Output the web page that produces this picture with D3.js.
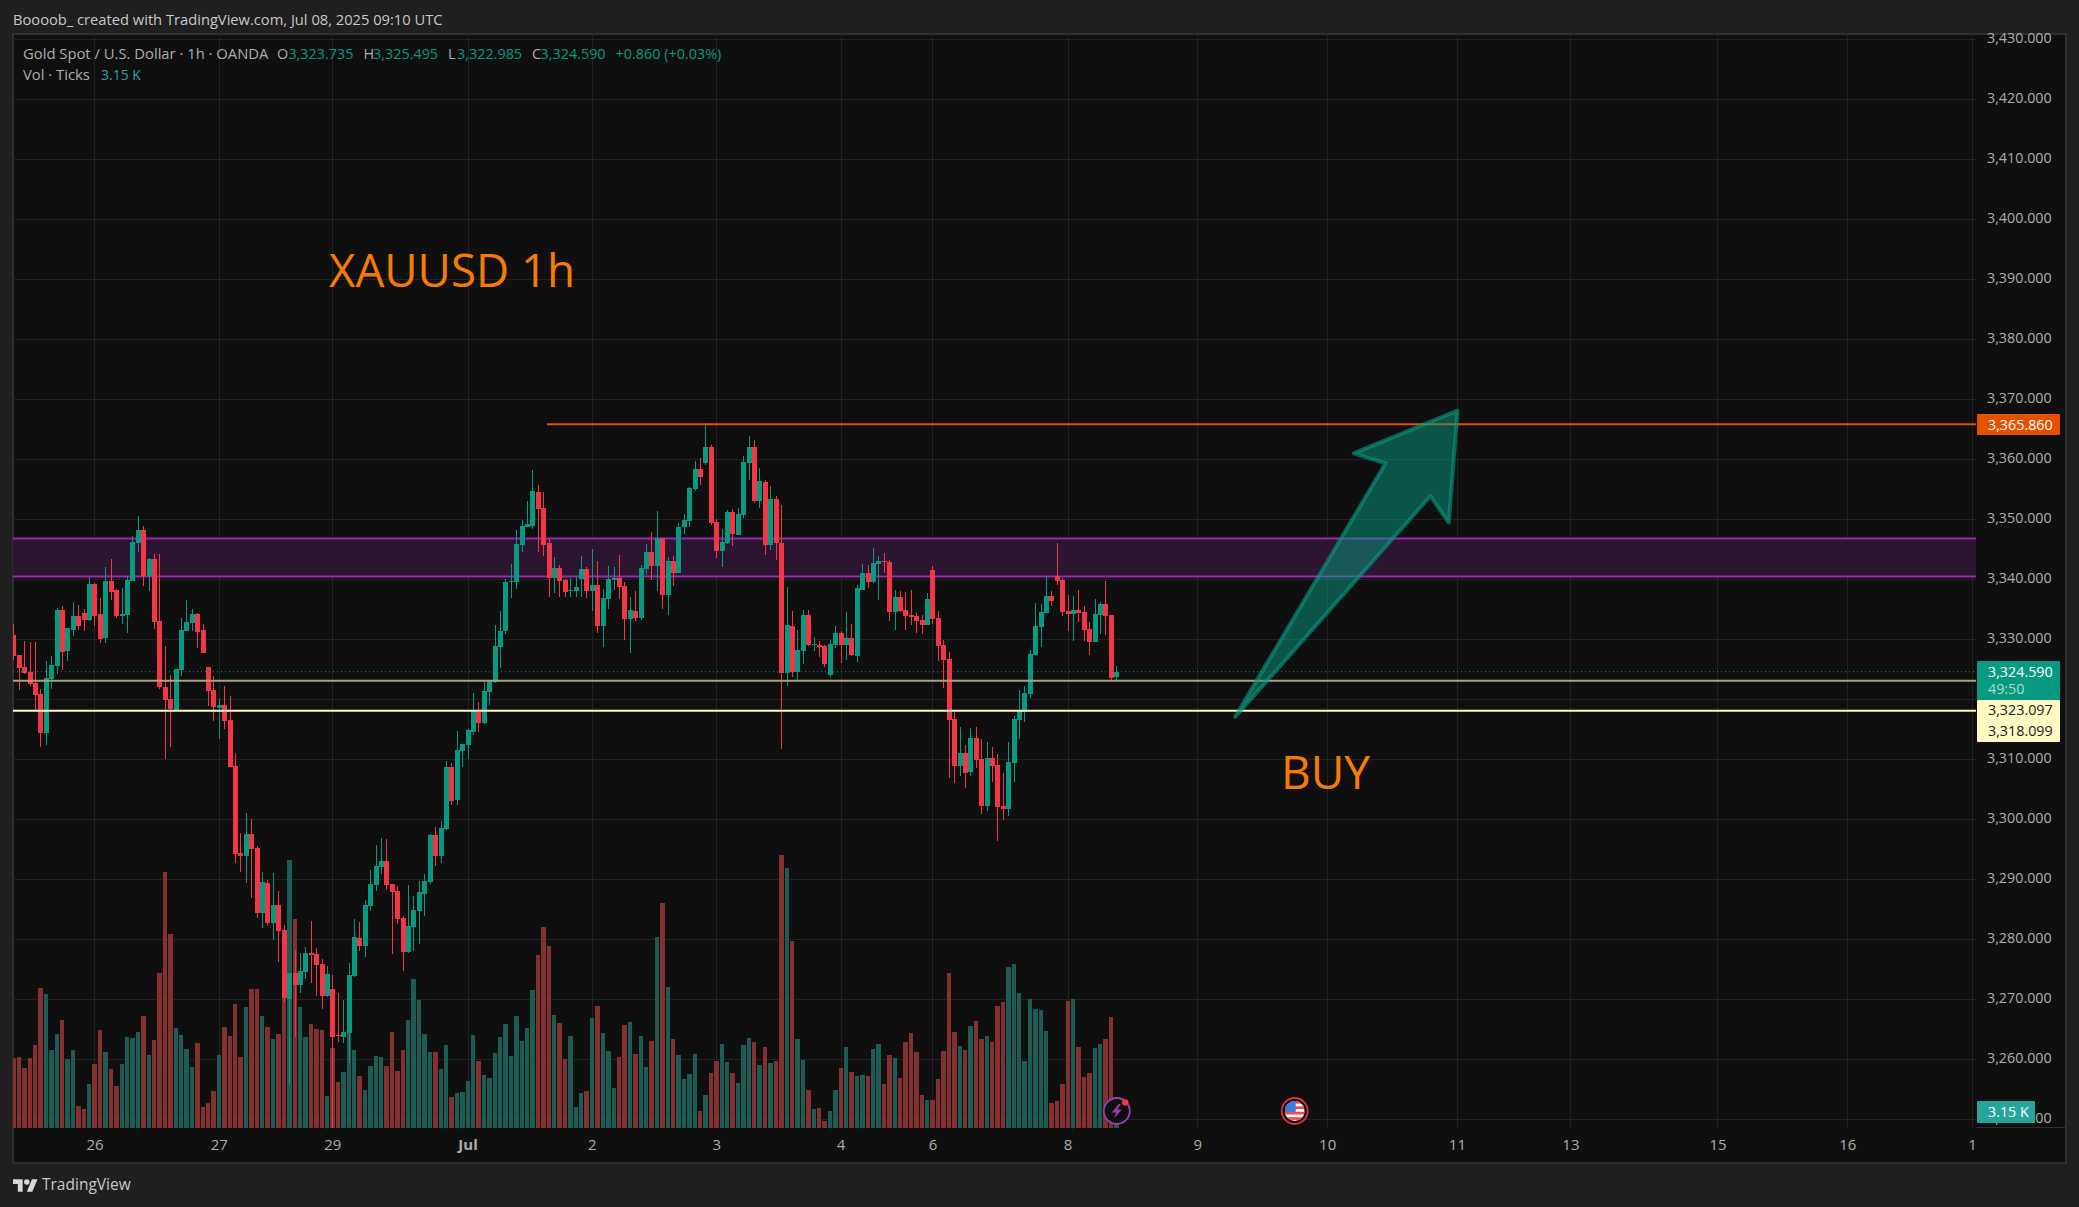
<!DOCTYPE html>
<html>
<head>
<meta charset="utf-8">
<script src="https://cdn.jsdelivr.net/npm/d3@7"></script>
<style>
  html, body { margin: 0; padding: 0; background: #1f1f1f; }
  svg { display: block; }
  text { font-family: "Open Sans", sans-serif; }
</style>
</head>
<body>
<div id="chart"></div>
<script>
// hourly candles
const opens = [3330.7,3327.4,3325.4,3324.6,3322.7,3320.9,3314.4,3323.4,3325.6,3334.9,3328.1,3331.6,3333.9,3334.4,3333.2,3339.2,3334.2,3330.2,3339.7,3338.2,3333.9,3334.1,3339.7,3346.1,3348.2,3340.6,3343.4,3333.1,3322.1,3320.1,3318.2,3324.9,3331.4,3332.7,3334.2,3331.6,3325.4,3321.6,3318.6,3319.1,3316.6,3308.9,
  3294.4,3293.9,3297.6,3295.2,3284.4,3289.4,3282.7,3285.7,3281.6,3270.1,3274.4,3272.4,3274.6,3277.7,3277.6,3275.9,3270.6,3271.7,3264.1,3263.7,3264.4,3273.9,3280.2,3278.9,3285.6,3289.1,3292.1,3293.1,3289.2,3288.1,
  3283.6,3277.9,3282.1,3284.7,3287.6,3289.6,3297.4,3293.9,3298.4,3308.7,3303.2,3311.4,3312.4,3314.6,3317.9,3316.1,3321.2,3322.9,3328.7,3331.4,3339.6,3339.6,3345.7,3348.7,3348.9,3354.6,3351.9,3346.1,3340.2,3341.9,3339.9,3338.1,3338.1,3340.1,3341.7,3338.1,3339.1,3332.2,3336.7,3339.9,3340.2,3338.9,3333.4,3334.7,3333.6,3341.7,3344.6,3342.2,3346.9,3337.4,3343.1,3341.1,3348.7,3349.7,3355.1,3358.4,3359.4,3362.1,3349.6,3344.7,3346.1,3351.2,3347.4,3350.7,3359.4,3362.1,3353.1,3356.2,3345.7,3353.4,
  3346.1,3324.4,3332.2,3324.6,3328.1,3334.1,3329.1,3329.1,3328.9,3324.1,3329.1,3331.1,3329.1,3330.2,3327.2,3338.2,3341.1,3339.6,3342.6,3343.1,3342.9,3334.6,3337.1,3334.9,3334.1,3333.9,3333.2,3332.4,3341.6,3333.6,3329.1,3326.7,3316.7,3308.9,3311.1,3307.9,3313.6,3310.1,3302.2,3310.2,3309.1,3302.2,3301.7,3309.4,3316.6,3317.9,3320.9,3327.4,3332.1,3334.4,3337.2,3340.6,3339.9,3334.7,3334.2,3334.9,3334.6,3331.7,3329.6,3334.1,3335.9,3334.1,3323.735];
const highs = [3332.6,3327.4,3329.7,3329.6,3329.6,3321.7,3326.4,3327.2,3335.2,3335.6,3331.9,3336.2,3335.7,3335.1,3340.4,3339.4,3336.9,3342.1,3343.4,3338.4,3338.6,3340.6,3347.2,3350.6,3348.9,3343.6,3344.2,3344.2,3328.9,3324.1,3325.1,3333.6,3336.6,3335.1,3334.4,3332.6,3325.4,3323.9,3320.1,3322.2,3320.6,3311.1,
  3297.7,3301.1,3300.1,3295.6,3291.2,3289.9,3291.1,3288.1,3282.4,3274.4,3278.2,3277.7,3278.7,3283.1,3278.6,3276.7,3275.6,3274.1,3271.1,3269.9,3276.1,3283.4,3282.9,3286.6,3291.6,3295.7,3296.9,3296.7,3289.2,3288.9,
  3283.9,3289.1,3287.2,3289.7,3290.9,3297.5,3298.7,3299.7,3309.7,3309.4,3314.7,3312.6,3315.1,3321.1,3319.6,3322.9,3323.2,3332.4,3334.7,3340.1,3342.6,3348.2,3349.9,3353.1,3358.2,3355.7,3354.6,3346.9,3343.7,3342.4,3340.1,3340.2,3340.6,3343.9,3342.1,3345.1,3343.1,3338.4,3342.2,3342.1,3344.1,3339.6,3337.1,3338.1,3342.4,3345.9,3347.9,3351.4,3346.9,3343.7,3343.9,3349.4,3350.9,3355.4,3359.7,3360.2,3366.1,3362.4,3350.1,3348.4,3351.6,3351.7,3351.9,3360.6,3363.9,3363.2,3358.6,3356.6,3355.6,3353.9,
  3352.4,3338.7,3334.7,3331.6,3334.9,3334.9,3330.4,3329.7,3329.1,3329.9,3332.2,3331.4,3334.6,3332.6,3339.1,3342.6,3342.4,3345.2,3343.9,3344.4,3343.2,3338.2,3338.1,3337.9,3338.2,3334.4,3334.1,3337.7,3342.2,3334.7,3329.9,3327.9,3317.9,3315.4,3312.4,3315.2,3315.4,3313.4,3312.9,3312.1,3310.9,3307.7,3312.9,3317.2,3321.6,3322.2,3328.2,3336.1,3335.9,3340.6,3338.1,3346.1,3340.2,3337.4,3337.2,3338.2,3335.6,3332.9,3336.7,3336.2,3339.7,3334.1,3325.495];
const lows = [3326.6,3321.6,3324.2,3322.2,3318.2,3312.1,3312.4,3321.7,3324.2,3324.9,3326.4,3330.6,3331.6,3331.4,3333.1,3332.2,3329.4,3329.4,3336.6,3333.6,3332.6,3331.1,3339.7,3344.6,3338.9,3338.1,3331.7,3321.7,3310.1,3312.1,3318.2,3323.9,3331.4,3331.4,3328.6,3327.7,3318.9,3316.4,3313.4,3315.1,3308.7,3292.7,
  3291.2,3289.4,3286.9,3283.6,3281.9,3282.2,3279.9,3276.2,3269.6,3255.9,3263.7,3271.1,3273.4,3272.7,3270.6,3268.4,3270.4,3248.6,3262.9,3262.7,3259.4,3273.7,3278.1,3277.1,3284.7,3288.1,3290.9,3288.2,3277.6,3282.6,
  3274.7,3277.7,3278.1,3279.2,3283.9,3289.2,3292.2,3292.7,3298.2,3302.4,3302.4,3308.7,3310.1,3314.1,3314.6,3315.9,3319.1,3322.7,3325.2,3330.9,3336.9,3338.4,3344.6,3348.7,3348.4,3344.6,3343.9,3337.1,3337.7,3337.1,3337.1,3337.1,3337.1,3337.1,3336.9,3334.7,3331.1,3328.7,3335.1,3338.2,3336.7,3329.9,3327.7,3333.1,3333.2,3340.7,3339.9,3338.1,3335.1,3334.1,3338.9,3341.1,3347.6,3348.7,3354.7,3355.7,3359.1,3349.1,3343.6,3342.1,3345.9,3345.6,3347.4,3350.2,3356.6,3352.7,3351.9,3344.1,3344.9,3343.2,
  3311.7,3322.2,3323.7,3323.1,3325.9,3328.9,3328.1,3327.1,3325.4,3323.7,3328.6,3326.1,3326.6,3327.2,3326.2,3338.2,3338.6,3339.4,3336.6,3341.1,3333.1,3331.6,3334.6,3331.6,3332.4,3331.1,3330.9,3332.4,3332.6,3326.4,3321.9,3306.9,3306.1,3307.2,3305.2,3307.2,3308.6,3300.9,3301.4,3306.2,3296.4,3299.9,3300.6,3306.2,3313.4,3316.2,3320.2,3327.4,3328.7,3334.4,3335.6,3339.1,3333.9,3331.4,3329.7,3332.9,3329.7,3327.4,3329.6,3330.9,3330.7,3323.2,3322.985];
const closes = [3327.2,3325.2,3324.4,3322.6,3320.7,3314.4,3323.6,3325.7,3334.9,3327.9,3331.9,3333.9,3332.2,3333.2,3339.2,3333.9,3330.1,3339.7,3337.9,3333.9,3334.2,3339.9,3346.2,3348.2,3340.6,3343.4,3332.9,3322.1,3319.9,3318.4,3325.1,3331.6,3332.9,3334.2,3331.2,3327.7,3321.4,3318.7,3319.1,3316.4,3308.7,3294.2,
  3293.9,3297.6,3295.1,3284.4,3289.6,3282.7,3285.7,3281.4,3270.2,3274.4,3272.4,3274.7,3277.7,3277.4,3275.7,3270.6,3274.2,3263.7,3263.9,3264.6,3274.1,3280.4,3278.9,3285.7,3289.2,3292.2,3293.1,3289.1,3287.9,3283.4,
  3277.9,3282.2,3284.9,3287.9,3289.7,3297.4,3293.9,3298.6,3308.7,3303.1,3311.6,3312.6,3314.9,3318.1,3316.1,3321.4,3323.1,3328.9,3331.4,3339.6,3339.7,3345.9,3348.9,3349.2,3354.7,3351.7,3345.7,3340.2,3341.9,3339.7,3337.9,3338.2,3338.7,3341.7,3338.1,3339.1,3332.2,3336.9,3340.1,3340.2,3338.7,3333.4,3334.9,3333.6,3341.9,3344.6,3342.2,3346.9,3337.4,3343.1,3341.1,3348.7,3349.9,3355.2,3358.4,3357.1,3362.1,3349.4,3344.7,3346.2,3351.2,3347.6,3350.9,3359.6,3362.1,3353.1,3356.4,3345.7,3353.4,3346.1,
  3324.4,3332.4,3324.6,3328.2,3334.1,3329.1,3329.2,3328.7,3325.9,3329.2,3331.1,3329.1,3330.2,3327.4,3338.6,3341.1,3339.6,3342.7,3343.1,3342.9,3334.6,3337.1,3334.7,3333.9,3333.7,3333.1,3332.4,3336.7,3333.4,3328.9,3326.6,3316.6,3308.9,3311.1,3307.7,3313.6,3309.9,3302.2,3310.2,3308.9,3302.1,3301.7,3309.6,3316.7,3318.2,3321.1,3327.6,3332.2,3334.6,3337.2,3336.4,3339.7,3334.6,3334.2,3334.9,3334.4,3331.6,3329.6,3334.2,3335.9,3333.9,3323.6,3324.59];
// tick volume in thousands
const volumes = [13.8,14.0,11.8,13.8,16.4,27.6,26.4,15.4,18.5,21.3,13.6,15.4,4.3,3.7,8.7,12.6,19.3,15.0,11.6,8.3,12.6,17.9,17.7,18.9,22.1,14.4,17.3,30.6,50.5,38.2,19.7,18.3,15.6,12.0,16.8,4.1,4.9,7.3,14.4,19.9,18.1,24.4,14.0,23.8,27.4,27.4,22.1,19.9,17.5,18.5,26.5,52.8,41.2,23.8,17.9,20.5,19.5,19.3,6.3,15.8,9.1,11.0,24.4,15.4,10.2,7.5,12.2,14.2,14.0,12.2,18.9,11.2,
  15.4,21.3,29.4,25.2,18.5,15.0,15.0,11.6,16.4,6.1,6.9,7.1,9.3,18.3,13.2,10.4,9.9,14.8,17.9,20.5,14.2,22.1,17.1,19.7,27.2,34.1,39.6,35.9,22.3,20.7,13.6,18.1,4.1,6.9,7.3,21.7,24.0,18.7,15.2,7.9,14.0,20.3,20.9,14.6,18.1,12.0,17.1,37.6,44.3,27.8,17.5,14.4,9.7,10.6,14.6,3.4,6.5,10.8,13.2,16.6,13.0,10.8,8.9,16.4,17.7,17.0,12.4,16.0,12.8,13.2,53.8,51.2,36.9,17.5,
  13.4,7.5,3.7,3.9,1.4,3.4,7.5,11.8,16.0,11.0,10.2,10.4,10.2,15.6,16.6,8.7,14.4,13.8,9.9,17.0,18.7,15.0,6.5,5.5,5.5,9.7,15.2,30.6,18.9,16.2,15.4,20.1,21.1,17.5,18.1,17.0,24.0,24.8,31.7,32.3,26.6,13.2,25.4,23.5,23.3,19.1,4.9,5.3,8.7,25.0,25.4,16.0,10.1,10.8,15.8,16.6,17.5,21.9,3.15];

const priceTicks = d3.range(3250, 3431, 10);
const dateLabels = ["26","27","29","Jul","2","3","4","6","8","9","10","11","13","15","16","1"];
const dateBars = [15,38,59,84,107,130,153,170,195,219,243,267,288,315.2,339.2,362.3];

// drawn levels, prices
const highLevel = 3365.86;
const lastClose = 3324.59;
const level2 = 3323.097;
const level1 = 3318.099;
const bandTop = 3346.8;
const bandBottom = 3340.46;
// the hand drawn arrow, [bar, price]
const arrowBars = [226,253.8,247.9,267.1,265.5,262.1];
const arrowPrices = [3317.1,3359.33,3361,3368.1,3349.43,3353.88];

const W = 2079, H = 1207;
const plotLeft = 13, plotRight = 1976, plotTop = 34, volBase = 1128, frameBottom = 1163, frameRight = 2066;
const UP = "#089981", DOWN = "#f23645";
const upVol = "#1d5b55", downVol = "#833030";
const GRID = "#222222", AXIS = "#adadad";
const FONT = "Open Sans";

const x = d3.scaleLinear().domain([0, 204]).range([13.4, 1116.3]);
const y = d3.scaleLinear().domain([3250, 3430]).range([1119.3, 39.3]);
const yVol = d3.scaleLinear().domain([0, 60]).range([volBase, volBase - 304.6]);
const px = i => Math.round(x(i));

const svg = d3.select("#chart").append("svg").attr("width", W).attr("height", H);

svg.append("rect").attr("width", W).attr("height", H).attr("fill", "#1f1f1f");
svg.append("rect").attr("x", plotLeft).attr("y", plotTop).attr("width", frameRight - plotLeft).attr("height", frameBottom - plotTop)
  .attr("fill", "#0f0f0f").attr("stroke", "#2e2e2e").attr("stroke-width", 2);

svg.append("defs").append("clipPath").attr("id", "plot")
  .append("rect").attr("x", plotLeft).attr("y", plotTop).attr("width", plotRight - plotLeft).attr("height", volBase - plotTop);

const plot = svg.append("g").attr("clip-path", "url(#plot)");

// grid
plot.selectAll(".hgrid").data(priceTicks).join("line")
  .attr("x1", plotLeft).attr("x2", plotRight)
  .attr("y1", d => Math.round(y(d)) + 0.5).attr("y2", d => Math.round(y(d)) + 0.5)
  .attr("stroke", GRID);
plot.selectAll(".vgrid").data(dateBars).join("line")
  .attr("x1", d => px(d) + 0.5).attr("x2", d => px(d) + 0.5)
  .attr("y1", plotTop).attr("y2", volBase)
  .attr("stroke", GRID);

// volume
plot.selectAll(".vol").data(volumes).join("rect")
  .attr("x", (d, i) => px(i) - 2)
  .attr("width", (d, i) => px(i + 1) - px(i) - 1)
  .attr("y", d => yVol(d))
  .attr("height", d => volBase - yVol(d))
  .attr("fill", (d, i) => closes[i] >= opens[i] ? upVol : downVol)
  .attr("shape-rendering", "crispEdges");

// purple zone
plot.append("rect").attr("x", plotLeft).attr("width", plotRight - plotLeft)
  .attr("y", y(bandTop)).attr("height", y(bandBottom) - y(bandTop))
  .attr("fill", "#2c1530");
[bandTop, bandBottom].forEach(p => {
  plot.append("line").attr("x1", plotLeft).attr("x2", plotRight).attr("y1", y(p)).attr("y2", y(p))
    .attr("stroke", "#9c27b0").attr("stroke-width", 2);
});

// candles
const bars = d3.range(opens.length);
plot.selectAll(".wick").data(bars).join("rect")
  .attr("x", i => px(i))
  .attr("width", 1)
  .attr("y", i => y(highs[i]))
  .attr("height", i => y(lows[i]) - y(highs[i]))
  .attr("fill", i => closes[i] >= opens[i] ? UP : DOWN)
  .attr("shape-rendering", "crispEdges");
plot.selectAll(".body").data(bars).join("rect")
  .attr("x", i => px(i) - 2)
  .attr("width", 5)
  .attr("y", i => y(Math.max(opens[i], closes[i])))
  .attr("height", i => Math.max(1, Math.abs(y(opens[i]) - y(closes[i]))))
  .attr("fill", i => closes[i] >= opens[i] ? UP : DOWN)
  .attr("shape-rendering", "crispEdges");

// levels
plot.append("line").attr("x1", plotLeft).attr("x2", plotRight).attr("y1", y(lastClose)).attr("y2", y(lastClose))
  .attr("stroke", UP).attr("stroke-dasharray", "1 3");
plot.append("line").attr("x1", 547).attr("x2", plotRight).attr("y1", y(highLevel)).attr("y2", y(highLevel))
  .attr("stroke", "#e65100").attr("stroke-width", 2);
plot.append("line").attr("x1", plotLeft).attr("x2", plotRight).attr("y1", y(level2)).attr("y2", y(level2))
  .attr("stroke", "#a8a381").attr("stroke-width", 2);
plot.append("line").attr("x1", plotLeft).attr("x2", plotRight).attr("y1", y(level1)).attr("y2", y(level1))
  .attr("stroke", "#fff9c4").attr("stroke-width", 2);

// arrow
const arrowLine = d3.line().x(d => x(d[0])).y(d => y(d[1]));
plot.append("path")
  .attr("d", arrowLine(d3.zip(arrowBars, arrowPrices)) + "Z")
  .attr("fill", UP).attr("fill-opacity", 0.5)
  .attr("stroke", UP).attr("stroke-opacity", 0.6).attr("stroke-width", 4)
  .attr("stroke-linejoin", "round");

// drawn texts
plot.append("text").attr("x", 329).attr("y", 271).attr("dy", "0.35em")
  .attr("font-size", 45.7).attr("fill", "#f57c00").text("XAUUSD 1h");
plot.append("text").attr("x", 1281).attr("y", 773).attr("dy", "0.35em")
  .attr("font-size", 46).attr("fill", "#f57c00").text("BUY");

// axes
const yAxis = svg.append("g").attr("transform", `translate(${plotRight},-1)`)
  .call(d3.axisRight(y).tickValues(priceTicks).tickFormat(d3.format(",.3f")).tickSize(0).tickPadding(11));
yAxis.select(".domain").remove();
yAxis.selectAll("text").attr("font-size", 14.3).attr("fill", AXIS).style("font-family", FONT)
  .filter(d => d === 3320).remove();

const xAxis = svg.append("g").attr("transform", `translate(0,${volBase + 1})`)
  .call(d3.axisBottom(x).tickValues(dateBars).tickFormat((d, i) => dateLabels[i]).tickSize(0).tickPadding(10));
xAxis.select(".domain").remove();
xAxis.selectAll("text").attr("font-size", 15).attr("fill", AXIS).style("font-family", FONT)
  .attr("font-weight", (d, i) => dateLabels[i] === "Jul" ? 700 : 400);

svg.append("line").attr("x1", plotRight).attr("x2", frameRight).attr("y1", volBase - 0.5).attr("y2", volBase - 0.5).attr("stroke", "#2e2e2e");

// axis tags
function tag(tagTop, h, w, fill) {
  svg.append("rect").attr("x", plotRight + 1).attr("y", tagTop).attr("width", w).attr("height", h).attr("rx", 1).attr("fill", fill);
}
function tagText(str, yc, fill) {
  svg.append("text").attr("x", 1988).attr("y", yc).attr("dy", "0.35em")
    .attr("font-size", 14.3).attr("fill", fill).text(str);
}
tag(414, 21, 83, "#e65100");
tagText("3,365.860", 424.5, "#ffffff");
tag(661, 39, 83, UP);
tagText("3,324.590", 671.5, "#ffffff");
tagText("49:50", 689, "#a8dcd2");
tag(700, 42, 83, "#fff9c4");
tagText("3,323.097", 710, "#222222");
tagText("3,318.099", 731, "#222222");
tag(1101, 22, 58, "#26a69a");
tagText("3.15 K", 1112, "#ffffff");

// header and legend
svg.append("text").attr("x", 13).attr("y", 20).attr("dy", "0.35em").attr("font-size", 14.7)
  .attr("fill", "#c8c8c8").text("Boooob_ created with TradingView.com, Jul 08, 2025 09:10 UTC");

const legendGrey = "#adadad";
const legendRow = [
  ["Gold Spot / U.S. Dollar · 1h · OANDA", 23, legendGrey, 14.8],
  ["O", 277, legendGrey, 14.4], ["3,323.735", 288.4, UP, 14.4],
  ["H", 363.5, legendGrey, 14.4], ["3,325.495", 373, UP, 14.4],
  ["L", 448, legendGrey, 14.4], ["3,322.985", 457, UP, 14.4],
  ["C", 532, legendGrey, 14.4], ["3,324.590", 540.5, UP, 14.4],
  ["+0.860 (+0.03%)", 615.6, UP, 14.4]
];
legendRow.forEach(d => {
  svg.append("text").attr("x", d[1]).attr("y", 54).attr("dy", "0.35em").attr("font-size", d[3]).attr("fill", d[2]).text(d[0]);
});
svg.append("text").attr("x", 23).attr("y", 75).attr("dy", "0.35em").attr("font-size", 14.8).attr("fill", legendGrey).text("Vol · Ticks");
svg.append("text").attr("x", 101).attr("y", 75).attr("dy", "0.35em").attr("font-size", 14).attr("fill", "#26a69a").text("3.15 K");

// footer logo
const logo = svg.append("g").attr("transform", "translate(13,1176.5) scale(0.69)").attr("fill", "#d8d8d8");
logo.append("path").attr("d", "M14 22H7V11H0V4h14v18zM28 22h-8l7.5-18h8L28 22z");
logo.append("circle").attr("cx", 20).attr("cy", 8).attr("r", 4);
svg.append("text").attr("x", 42).attr("y", 1185).attr("dy", "0.35em").attr("font-size", 15.5).attr("fill", "#c8c8c8").text("TradingView");

// event icons
const ix = x(204) + 0.5, iy = 1111;
svg.append("circle").attr("cx", ix).attr("cy", iy).attr("r", 13).attr("fill", "#0f0f0f")
  .attr("stroke", "#9c3fb0").attr("stroke-width", 1.8);
svg.append("path").attr("transform", `translate(${ix},${iy})`)
  .attr("d", "M2-7L-5 1.5H-.5L-3 7.5 5-1.5H.5L4-7Z").attr("fill", "#9c3fb0");
svg.append("circle").attr("cx", ix + 8.5).attr("cy", iy - 8.5).attr("r", 3.2).attr("fill", "#f23645");

const fx = x(237), fy = 1111;
svg.append("circle").attr("cx", fx).attr("cy", fy).attr("r", 13).attr("fill", "#0f0f0f")
  .attr("stroke", "#e0303c").attr("stroke-width", 1.8);
svg.select("defs").append("clipPath").attr("id", "flag")
  .append("circle").attr("cx", fx).attr("cy", fy).attr("r", 10);
const flag = svg.append("g").attr("clip-path", "url(#flag)");
flag.append("rect").attr("x", fx - 10).attr("y", fy - 10).attr("width", 20).attr("height", 20).attr("fill", "#f4f4f4");
d3.range(4).forEach(k => {
  flag.append("rect").attr("x", fx - 10).attr("y", fy - 10 + k * 5.4).attr("width", 20).attr("height", 2.7).attr("fill", "#ef4d4d");
});
flag.append("rect").attr("x", fx - 10).attr("y", fy - 10).attr("width", 11).attr("height", 11).attr("fill", "#3d7fe0");
</script>
</body>
</html>
